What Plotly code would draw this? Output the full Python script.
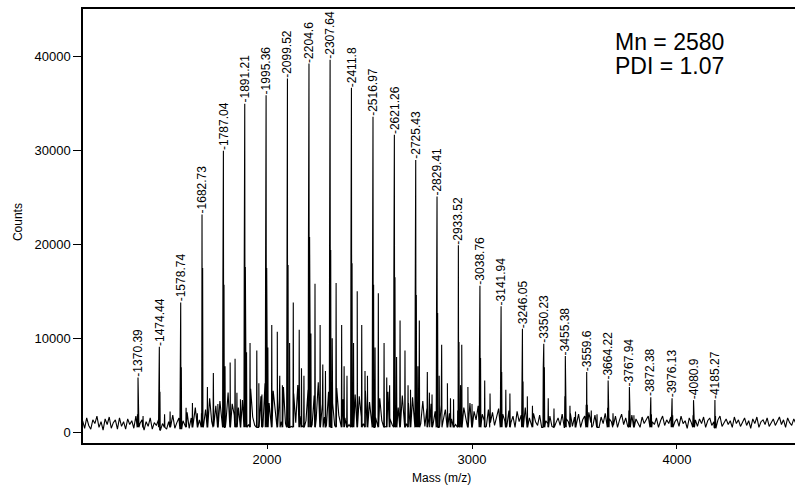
import numpy as np
import plotly.graph_objects as go

# ---- data ----
peak_labels = ["1370.39", "1474.44", "1578.74", "1682.73", "1787.04", "1891.21", "1995.36",
               "2099.52", "2204.6", "2307.64", "2411.8", "2516.97", "2621.26", "2725.43",
               "2829.41", "2933.52", "3038.76", "3141.94", "3246.05", "3350.23", "3455.38",
               "3559.6", "3664.22", "3767.94", "3872.38", "3976.13", "4080.9", "4185.27"]
peak_mz = [float(s) for s in peak_labels]
peak_counts = [5800, 9100, 13800, 23200, 30000, 35000, 35900, 37700, 39300, 39700, 36700,
               33600, 31700, 29000, 25100, 19900, 15600, 13400, 11000, 9400, 8100, 6400,
               5500, 4800, 3700, 3600, 3400, 3400]
# isotope-cluster body height under each labelled peak
body_counts = [1900, 4300, 6900, 17500, 15700, 17600, 17500, 17800, 20800, 19400, 18000,
               15700, 16500, 14600, 12700, 9600, 7900, 6400, 5400, 6900, 3800, 2900,
               2600, 2300, 1900, 1800, 1800, 1700]

# secondary (unlabelled) peaks
sat_mz = [1395, 1500, 1527, 1605, 1636, 1660, 1709, 1738, 1760, 1820, 1844, 1870, 1917, 1950,
          1975, 2023, 2050, 2075, 2128, 2157, 2180, 2234, 2259, 2285, 2337, 2364, 2390, 2440,
          2462, 2490, 2543, 2571, 2598, 2649, 2673, 2700, 2743, 2782, 2805, 2852, 2880, 2910,
          2950, 2980, 3062, 3088, 3165, 3185, 3270, 3295, 3372, 3400, 3478, 3505, 3582, 3610,
          3688, 3790,
          1795, 1900, 2004, 2110, 2214, 2318, 2422, 2527, 2632, 2736, 2840, 2944,
          1853, 1960, 2062, 2168, 2272, 2376, 2478, 2584, 2688, 2792, 2895, 3000]
sat_counts = [1700, 1900, 2200, 2600, 3100, 2000, 4800, 6300, 3000, 7400, 7800, 3500, 9500, 8700,
              4000, 11400, 10700, 5000, 13800, 10900, 6000, 15800, 11400, 6500, 15900, 11400, 6000,
              15000, 11400, 6000, 14800, 9500, 5000, 11900, 8700, 4500, 11900, 6400, 4000, 9300,
              5200, 3500, 9300, 4800, 5500, 4100, 4500, 4100, 3800, 2800, 3600, 2500, 2800, 2200,
              2300, 1900, 2000, 1800,
              7000, 8500, 9000, 9500, 10500, 10000, 9500, 9000, 8000, 7000, 6000, 5000,
              4200, 5200, 6000, 6800, 7200, 7000, 6500, 5800, 5000, 4200, 3600, 3000]

# baseline noise, one reading every 10 m/z from 1100 to 4580
noise_start = 1100
noise_step = 10
noise_counts = [
    1200, 400, 1500, 700, 300, 1300, 900, 1700, 500, 1100, 200, 1400, 800, 1600, 400, 1000, 1300, 300, 1500, 600,
    1100, 300, 1400, 800, 1200, 400, 1700, 500, 900, 1300, 200, 1100, 600, 1500, 300, 1000, 700, 1300, 200, 900,
    1400, 300, 1100, 600, 1800, 400, 1000, 1500, 300, 1200, 700, 2100, 400, 1500, 900, 2600, 500, 1300, 2000, 600,
    2400, 700, 3600, 1100, 600, 2800, 1500, 3300, 700, 2200, 1200, 4200, 600, 3000, 1800, 900, 2600, 500, 3400, 1300,
    2700, 800, 4600, 1600, 700, 2900, 1300, 3800, 600, 5200, 1200, 3100, 800, 4400, 1800, 700, 3500, 1100, 4800, 900,
    3300, 1500, 600, 4100, 1000, 5000, 1700, 700, 3600, 1200, 4500, 2000, 800, 3900, 1400, 5300, 900, 3000, 1600, 700,
    4300, 1200, 3100, 700, 4700, 1800, 900, 3500, 1500, 5100, 800, 2700, 1300, 4000, 700, 3800, 1600, 900, 4400, 1200,
    3200, 800, 4100, 1500, 700, 3600, 1200, 2900, 600, 4300, 1400, 800, 3500, 1100, 2600, 700, 3900, 1500, 900, 3100,
    1200, 3700, 700, 2800, 1400, 900, 3300, 600, 2500, 1500, 3000, 800, 2200, 1200, 700, 2900, 1300, 2400, 600, 2000,
    1400, 2700, 800, 2300, 1100, 600, 2600, 1500, 900, 3100, 700, 2200, 1300, 2800, 800, 1900, 1200, 600, 2400, 1000,
    2100, 700, 1600, 2500, 800, 1900, 1200, 600, 2300, 1000, 1700, 500, 2200, 1100, 1800, 700, 2600, 900, 1500, 600,
    2000, 1100, 700, 1800, 500, 2100, 1200, 900, 1700, 600, 2300, 1000, 1500, 700, 1900, 500, 1400, 1100, 2000, 600,
    1600, 900, 1900, 500, 1300, 1700, 600, 2100, 1000, 700, 1800, 1200, 500, 1600, 900, 2000, 600, 1400, 1100, 700,
    1700, 500, 1300, 1900, 800, 1500, 600, 1200, 1800, 700, 1400, 1000, 500, 1600, 900, 1300, 1700, 600, 1100, 800,
    1500, 500, 1200, 1700, 700, 1300, 900, 1600, 500, 1100, 1400, 600, 1700, 900, 1200, 400, 1500, 1000, 700, 1300,
    600, 1400, 900, 1600, 500, 1200, 1500, 700, 1100, 400, 1300, 1700, 600, 1000, 1400, 800, 1200, 500, 1600, 900,
    1300, 600, 1100, 1500, 700, 1200, 400, 1400, 900, 1600, 500, 1100, 1300, 800, 1500, 600, 1000, 1400, 700, 1200,
    1600, 800, 1300, 500, 1500, 1000, 700, 1400, 900]

# ---- build the line spectrum from the data ----
noise_mz = noise_start + noise_step * np.arange(len(noise_counts))
noise_arr = np.array(noise_counts, dtype=float)


def floor_at(m):
    i = int(np.argmin(np.abs(noise_mz - m)))
    return min(noise_arr[i], 500.0)


pts = list(zip(noise_mz.tolist(), noise_arr.tolist()))
half = 1.5


def add_peak(m, h):
    f = floor_at(m)
    pts.extend([(m - half, f), (m, h), (m + half, f)])


for m, h in zip(sat_mz, sat_counts):
    add_peak(m, h)
for m, h, b in zip(peak_mz, peak_counts, body_counts):
    add_peak(m - 2.5, b)
    add_peak(m, h)
    add_peak(m + 3.0, b)

pts.sort(key=lambda p: p[0])
xs = [p[0] for p in pts]
ys = [p[1] for p in pts]

FONT = "Liberation Sans, Arial, sans-serif"

fig = go.Figure()
fig.add_trace(go.Scatter(x=xs, y=ys, mode="lines",
                         line=dict(color="black", width=1.1), hoverinfo="skip"))

annotations = []
for lab, m, h in zip(peak_labels, peak_mz, peak_counts):
    annotations.append(dict(x=m, y=h, xref="x", yref="y", text="-" + lab,
                            textangle=-90, showarrow=False, xanchor="center",
                            yanchor="bottom", borderpad=0,
                            font=dict(family=FONT, size=12, color="black")))

annotations += [
    dict(x=0.744, y=0.925, xref="paper", yref="paper", text="Mn = 2580", showarrow=False,
         xanchor="left", yanchor="middle", font=dict(family=FONT, size=23, color="black")),
    dict(x=0.744, y=0.869, xref="paper", yref="paper", text="PDI = 1.07", showarrow=False,
         xanchor="left", yanchor="middle", font=dict(family=FONT, size=23, color="black")),
    dict(x=-0.0913, y=0.509, xref="paper", yref="paper", text="Counts", showarrow=False,
         textangle=-90, xanchor="center", yanchor="middle",
         font=dict(family=FONT, size=12, color="black")),
    dict(x=0.503, y=-0.0806, xref="paper", yref="paper", text="Mass (m/z)", showarrow=False,
         xanchor="center", yanchor="middle", font=dict(family=FONT, size=12, color="black")),
]

fig.update_layout(
    width=795, height=485,
    margin=dict(l=83, r=0, t=9, b=42),
    paper_bgcolor="white", plot_bgcolor="white",
    showlegend=False,
    font=dict(family=FONT, size=13, color="black"),
    annotations=annotations,
    xaxis=dict(range=[1102, 4576], tickvals=[2000, 3000, 4000], ticks="outside", ticklen=4,
               tickcolor="black", showline=True, linecolor="black", linewidth=1.5,
               mirror=True, showgrid=False, zeroline=False,
               tickfont=dict(family=FONT, size=13, color="black")),
    yaxis=dict(range=[-1170, 45100], tickvals=[0, 10000, 20000, 30000, 40000],
               tickformat="d", ticks="outside", ticklen=8, tickcolor="black",
               showline=True, linecolor="black", linewidth=1.5, showgrid=False,
               zeroline=False, tickfont=dict(family=FONT, size=13, color="black")),
)

fig.write_html("out.html")
